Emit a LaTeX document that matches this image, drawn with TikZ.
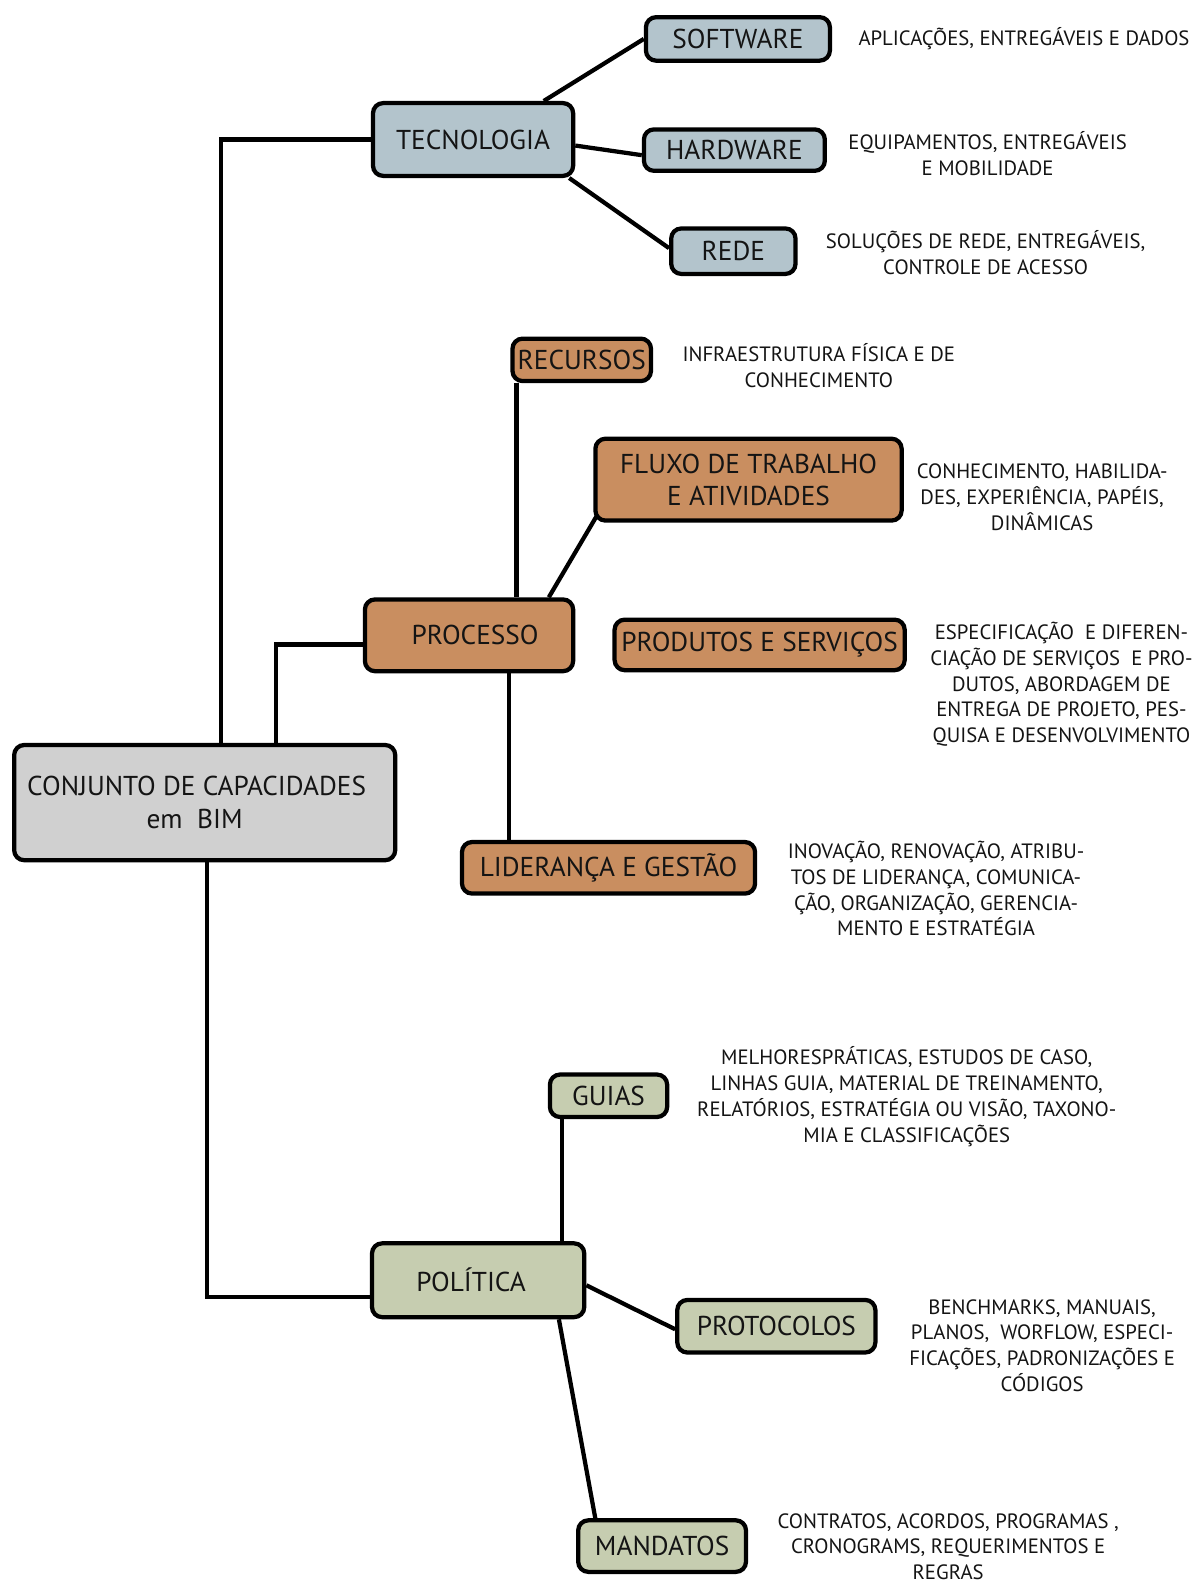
\documentclass[tikz,border=0pt]{standalone}
\usepackage{fontspec}
\setmainfont{PT Sans}
\usetikzlibrary{calc}
\definecolor{tecblue}{HTML}{B3C4CC}
\definecolor{procorange}{HTML}{C98E60}
\definecolor{polgreen}{HTML}{C6CDB0}
\definecolor{conjgrey}{HTML}{D0D0D0}
\pgfdeclarelayer{background}
\pgfsetlayers{background,main}
\begin{document}
\begin{tikzpicture}[x=1pt,y=-1pt,
  box/.style={draw=black, line width=4.2pt, rounded corners=10pt, inner sep=0pt,
    align=center, text=black!92, font=\fontsize{27}{32}\selectfont},
  tecbox/.style={box, fill=tecblue},
  procbox/.style={box, fill=procorange},
  polbox/.style={box, fill=polgreen},
  conjbox/.style={box, fill=conjgrey},
  desc/.style={align=center, inner sep=0pt, text=black!92, font=\fontsize{20.5}{25.5}\selectfont},
  conn/.style={draw=black, line width=4.2pt}
]
% boxes
\node[tecbox, minimum width=198pt, minimum height=72pt] (tec) at (468,138) {TECNOLOGIA};
\node[tecbox, minimum width=182pt, minimum height=43pt] (sw) at (730,38.5) {SOFTWARE};
\node[tecbox, minimum width=179pt, minimum height=41pt] (hw) at (726.5,148.5) {HARDWARE};
\node[tecbox, minimum width=123pt, minimum height=45pt] (rede) at (725.5,248.5) {REDE};

\node[procbox, minimum width=137pt, minimum height=42pt] (rec) at (575.5,356) {RECURSOS};
\node[procbox, minimum width=303pt, minimum height=81pt] (flux) at (740.5,474.5) {FLUXO DE TRABALHO\\E ATIVIDADES};
\node[procbox, minimum width=206pt, minimum height=71pt] (proc) at (464,628.5) {\hspace*{12pt}PROCESSO};
\node[procbox, minimum width=287pt, minimum height=50pt] (prod) at (751.5,638) {PRODUTOS E SERVIÇOS};
\node[procbox, minimum width=290pt, minimum height=51pt] (lid) at (602,858.5) {LIDERANÇA E GESTÃO};

\node[conjbox, minimum width=377pt, minimum height=114pt] (conj) at (202.5,794) {CONJUNTO DE CAPACIDADES\hspace*{16pt}\\em\ \ BIM\hspace*{20pt}};

\node[polbox, minimum width=116pt, minimum height=42pt] (guias) at (602,1084) {GUIAS};
\node[polbox, minimum width=210pt, minimum height=73pt] (pol) at (473,1266.5) {POLÍTICA\hspace*{14pt}};
\node[polbox, minimum width=196pt, minimum height=52pt] (prot) at (768,1312) {PROTOCOLOS};
\node[polbox, minimum width=166pt, minimum height=51pt] (mand) at (655,1529.5) {MANDATOS};

% descriptions
\node[desc] (dsw) at (1013,38) {APLICAÇÕES, ENTREGÁVEIS E DADOS};
\node[desc] (dhw) at (977,152) {EQUIPAMENTOS, ENTREGÁVEIS\\E MOBILIDADE};
\node[desc] (drede) at (975,250) {SOLUÇÕES DE REDE, ENTREGÁVEIS,\\CONTROLE DE ACESSO};
\node[desc] (drec) at (810,362) {INFRAESTRUTURA FÍSICA E DE\\CONHECIMENTO};
\node[desc] (dflux) at (1031,492) {CONHECIMENTO, HABILIDA-\\DES, EXPERIÊNCIA, PAPÉIS,\\DINÂMICAS};
\node[desc] (dprod) at (1050,677) {ESPECIFICAÇÃO\ \ E DIFEREN-\\CIAÇÃO DE SERVIÇOS\ \ E PRO-\\DUTOS, ABORDAGEM DE\\ENTREGA DE PROJETO, PES-\\QUISA E DESENVOLVIMENTO};
\node[desc] (dlid) at (926,879) {INOVAÇÃO, RENOVAÇÃO, ATRIBU-\\TOS DE LIDERANÇA, COMUNICA-\\ÇÃO, ORGANIZAÇÃO, GERENCIA-\\MENTO E ESTRATÉGIA};
\node[desc] (dguia) at (897,1085) {MELHORESPRÁTICAS, ESTUDOS DE CASO,\\LINHAS GUIA, MATERIAL DE TREINAMENTO,\\RELATÓRIOS, ESTRATÉGIA OU VISÃO, TAXONO-\\MIA E CLASSIFICAÇÕES};
\node[desc] (dprot) at (1031,1331) {BENCHMARKS, MANUAIS,\\PLANOS,\ \ WORFLOW, ESPECI-\\FICAÇÕES, PADRONIZAÇÕES E\\CÓDIGOS};
\node[desc] (dmand) at (938,1530) {CONTRATOS, ACORDOS, PROGRAMAS ,\\CRONOGRAMS, REQUERIMENTOS E\\REGRAS};

% connectors
\begin{pgfonlayer}{background}
\fill[white] (0,0) rectangle (1183,1568);
\draw[conn] (tec.west) -| ($(conj.north west)+(207,0)$);
\draw[conn] ($(proc.west)+(0,9)$) -| ($(conj.north west)+(261,0)$);
\draw[conn] ($(conj.south west)+(193,0)$) |- ($(pol.north west)+(0,55)$);
\draw[conn] ($(tec.north west)+(171,0)$) -- (sw.west);
\draw[conn] ($(tec.east)+(0,6)$) -- ($(hw.west)+(0,5)$);
\draw[conn] ($(tec.south east)+(-6,0)$) -- ($(rede.west)+(0,-3)$);
\draw[conn] ($(rec.south west)+(6,0)$) -- ($(proc.north west)+(152,0)$);
\draw[conn] ($(flux.south west)+(3,-6)$) -- ($(proc.north west)+(184,0)$);
\draw[conn] ($(proc.south west)+(145,0)$) -- ($(lid.north west)+(49,0)$);
\draw[conn] ($(guias.south west)+(14,0)$) -- ($(pol.north west)+(190,0)$);
\draw[conn] ($(pol.east)+(0,5)$) -- ($(prot.west)+(0,3)$);
\draw[conn] ($(pol.south west)+(187,0)$) -- ($(mand.north west)+(19,0)$);
\end{pgfonlayer}
\useasboundingbox (0,0) rectangle (1183,1568);
\end{tikzpicture}
\end{document}
